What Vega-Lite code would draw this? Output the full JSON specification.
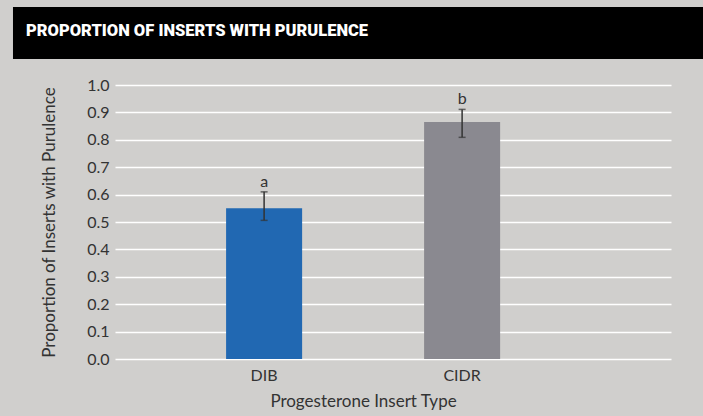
{
  "$schema": "https://vega.github.io/schema/vega-lite/v6.json",
  "background": "#d0cfcd",
  "padding": {"left": 12, "top": 7, "right": 0, "bottom": 8},
  "spacing": 18,
  "config": {
    "font": "Lato",
    "view": {"stroke": null},
    "axis": {"labelColor": "#333333", "titleColor": "#333333", "labelFontSize": 16, "titleFontSize": 17, "titleFontWeight": "normal", "domain": false, "ticks": false}
  },
  "vconcat": [
    {
      "width": 589,
      "height": 52,
      "data": {"values": [{"t": "PROPORTION OF INSERTS WITH PURULENCE"}]},
      "encoding": {
        "x": {"datum": -0.1732, "type": "quantitative", "scale": {"domain": [0, 1], "nice": false, "zero": false}, "axis": null}
      },
      "layer": [
        {
          "mark": {"type": "rect", "color": "#000000"},
          "encoding": {"x2": {"datum": 1}}
        },
        {
          "mark": {"type": "text", "align": "left", "baseline": "middle", "dx": 13, "dy": -2, "font": "Roboto", "fontWeight": 900, "fontSize": 16.5, "color": "#ffffff"},
          "encoding": {"text": {"field": "t"}}
        }
      ]
    },
    {
      "width": 556,
      "height": 274,
      "data": {"values": [
        {"type": "DIB", "value": 0.55, "lo": 0.506, "hi": 0.61, "label": "a"},
        {"type": "CIDR", "value": 0.865, "lo": 0.809, "hi": 0.911, "label": "b"}
      ]},
      "encoding": {
        "x": {"field": "type", "type": "nominal", "sort": ["DIB", "CIDR"],
          "scale": {"paddingInner": 0.616, "paddingOuter": 0.712, "align": 0.394},
          "axis": {"title": "Progesterone Insert Type", "titleX": 248, "labelAngle": 0, "labelPadding": 8, "titlePadding": 10, "grid": false}}
      },
      "layer": [
        {
          "mark": {"type": "bar"},
          "encoding": {
            "y": {"field": "value", "type": "quantitative", "scale": {"domain": [0, 1]},
              "axis": {"title": "Proportion of Inserts with Purulence", "values": [0, 0.1, 0.2, 0.3, 0.4, 0.5, 0.6, 0.7, 0.8, 0.9, 1.0], "format": ".1f", "labelPadding": 6, "titlePadding": 28, "gridColor": "#ffffff", "gridWidth": 1.5, "gridOpacity": 1}},
            "color": {"field": "type", "type": "nominal", "scale": {"domain": ["DIB", "CIDR"], "range": ["#2168b2", "#8a8990"]}, "legend": null}
          }
        },
        {
          "mark": {"type": "errorbar", "color": "#333333", "thickness": 1.5, "ticks": {"size": 7, "thickness": 1.5, "color": "#333333"}},
          "encoding": {
            "y": {"field": "lo", "type": "quantitative",
              "axis": {"title": "Proportion of Inserts with Purulence", "values": [0, 0.1, 0.2, 0.3, 0.4, 0.5, 0.6, 0.7, 0.8, 0.9, 1.0], "format": ".1f", "labelPadding": 6, "titlePadding": 28, "gridColor": "#ffffff", "gridWidth": 1.5, "gridOpacity": 1}},
            "y2": {"field": "hi"}
          }
        },
        {
          "mark": {"type": "text", "baseline": "bottom", "dy": -2, "fontSize": 16, "color": "#333333"},
          "encoding": {
            "y": {"field": "hi", "type": "quantitative",
              "axis": {"title": "Proportion of Inserts with Purulence", "values": [0, 0.1, 0.2, 0.3, 0.4, 0.5, 0.6, 0.7, 0.8, 0.9, 1.0], "format": ".1f", "labelPadding": 6, "titlePadding": 28, "gridColor": "#ffffff", "gridWidth": 1.5, "gridOpacity": 1}},
            "text": {"field": "label"}
          }
        }
      ]
    }
  ]
}
